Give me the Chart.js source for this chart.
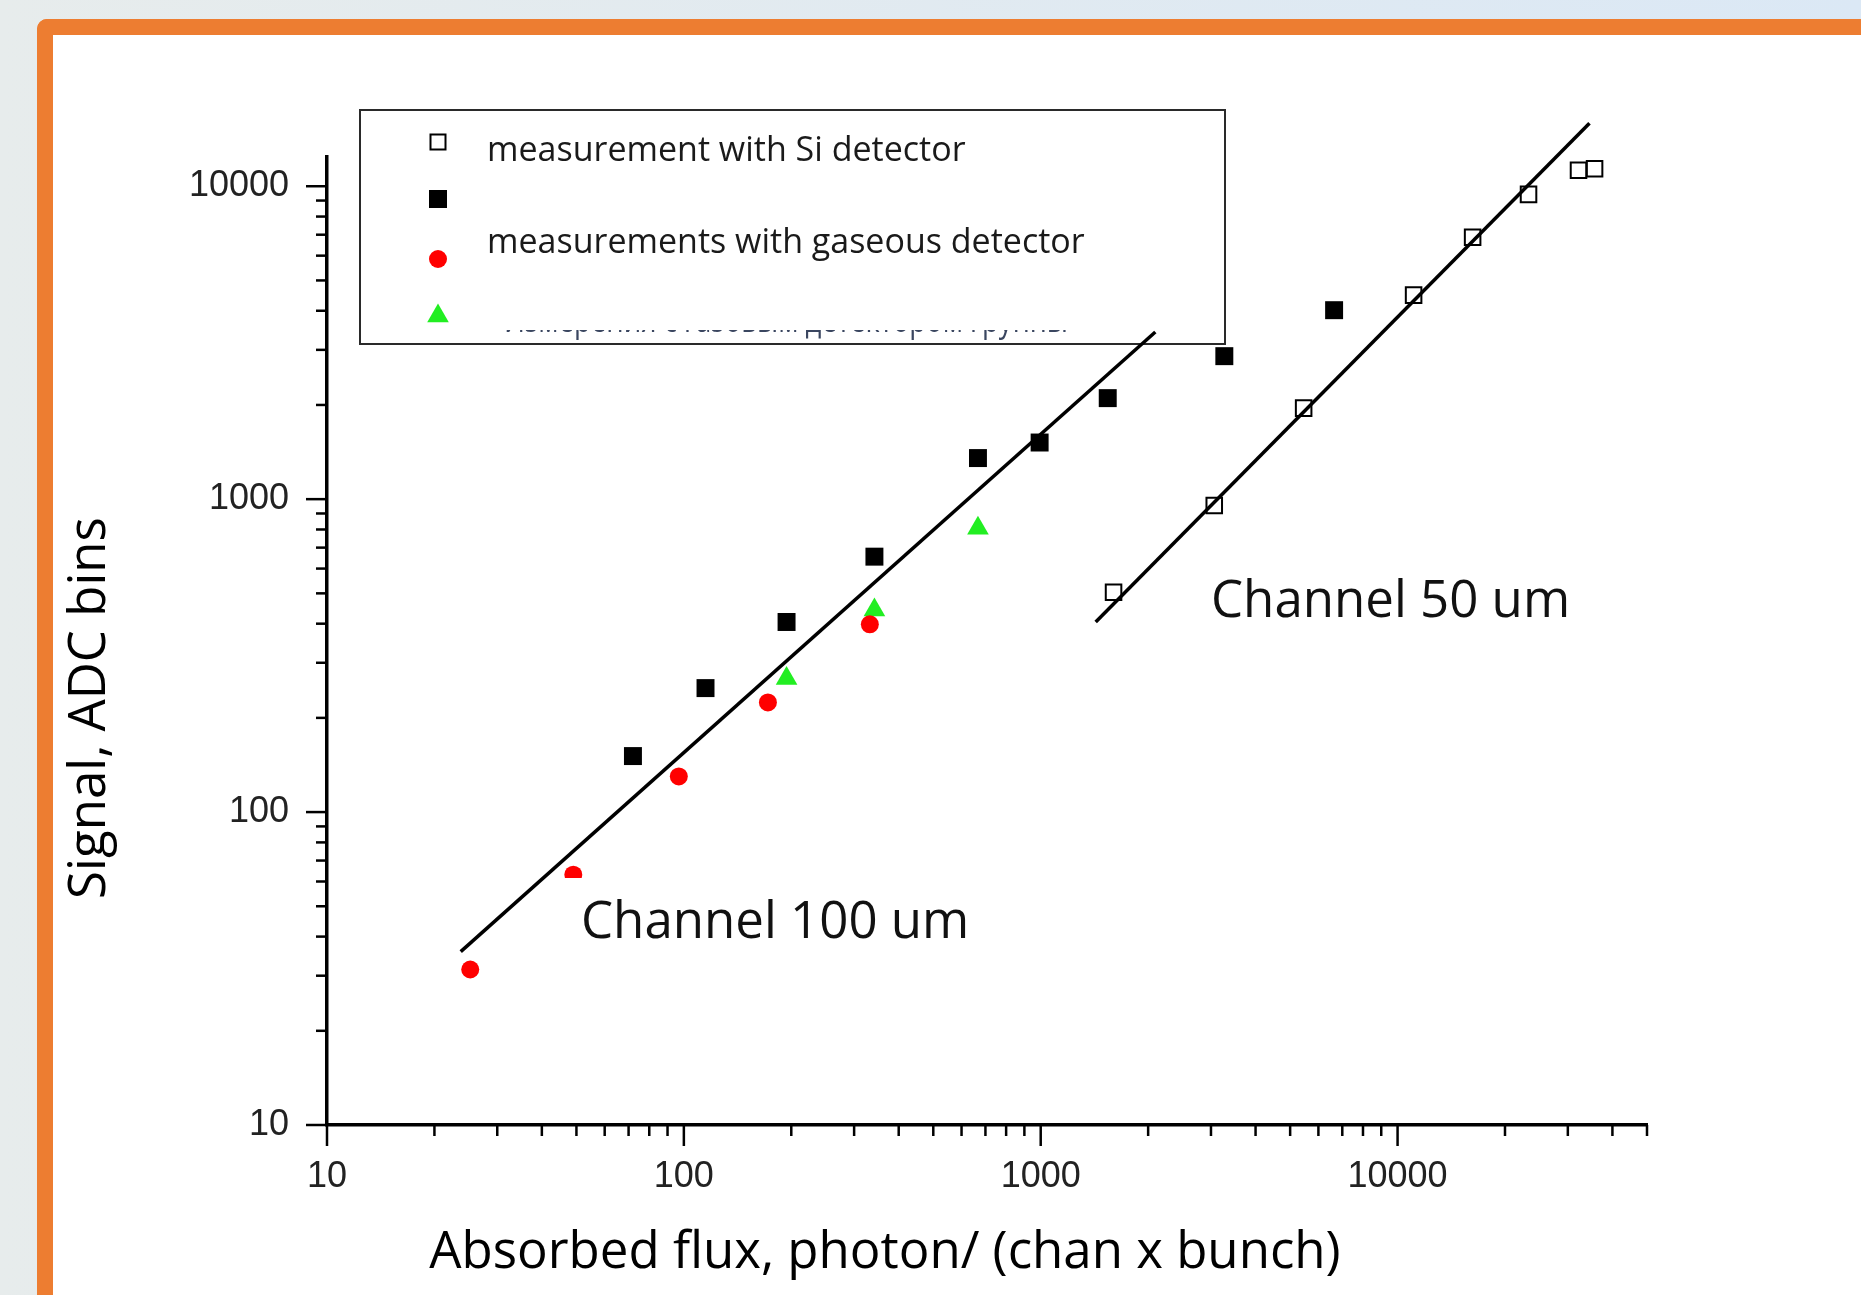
<!DOCTYPE html>
<html>
<head>
<meta charset="utf-8">
<script src="https://cdn.jsdelivr.net/npm/chart.js@4.4.1/dist/chart.umd.min.js"></script>
<style>
html, body { margin: 0; padding: 0; }
body {
	width: 1861px; height: 1295px; overflow: hidden; position: relative;
	background: linear-gradient(to right, #e7ecec, #dbe8f5);
}
#frame {
	position: absolute; left: 37px; top: 19px; width: 1900px; height: 1400px;
	background: #fff;
	border-top: 16px solid #ed7d31; border-left: 16px solid #ed7d31;
	border-top-left-radius: 10px;
}
#chart { position: absolute; left: 0; top: 0; }
</style>
</head>
<body>
<div id="frame"></div>
<canvas id="chart" width="1861" height="1295"></canvas>
<script>
// values (absorbed flux vs signal)
const siX = [1600, 3064, 5455, 11090, 16230, 23280, 32140, 35650];
const siY = [504, 955, 1954, 4487, 6873, 9420, 11250, 11370];

const blackX = [72, 115, 194, 342, 667, 993, 1541, 3270, 6640];
const blackY = [151, 249, 405, 655, 1353, 1517, 2103, 2864, 4017];

const redX = [25.2, 49, 96.8, 172, 332];
const redY = [31.4, 63.1, 130, 224, 398];

const greenX = [194, 342, 667];
const greenY = [267, 442, 808];

// fitted lines
const fit100X = [23.7, 2095];
const fit100Y = [35.8, 3420];
const fit50X = [1426, 34500];
const fit50Y = [405, 15900];

const xTickLabels = ["10", "100", "1000", "10000"];
const yTickLabels = ["10", "100", "1000", "10000"];

const legendTexts = ["measurement with Si detector", "measurements with gaseous detector"];
const cutText = "Измерения с газовым детектором группы";
const xTitle = "Absorbed flux, photon/ (chan x bunch)";
const yTitle = "Signal, ADC bins";
const note100 = "Channel 100 um";
const note50 = "Channel 50 um";

function pts(xs, ys) {
	return xs.map((x, i) => ({ x: x, y: ys[i] }));
}

function logTicks(scale) {
	const ticks = [];
	for (let d = 1; d <= 100000; d *= 10) {
		for (let m = 1; m <= 9; m++) {
			const v = m * d;
			if (v >= scale.min && v <= scale.max) ticks.push({ value: v, major: m === 1 });
		}
	}
	scale.ticks = ticks;
}

function drawMarker(ctx, kind, x, y) {
	ctx.save();
	if (kind === "open") {
		ctx.strokeStyle = "#000";
		ctx.lineWidth = 2;
		ctx.strokeRect(x - 7.5, y - 7.5, 15, 15);
	} else if (kind === "black") {
		ctx.fillStyle = "#000";
		ctx.fillRect(x - 9, y - 9, 18, 18);
	} else if (kind === "red") {
		ctx.fillStyle = "#ff0000";
		ctx.beginPath();
		ctx.arc(x, y, 9, 0, Math.PI * 2);
		ctx.fill();
	} else {
		ctx.fillStyle = "#22ee22";
		ctx.beginPath();
		ctx.moveTo(x, y - 12.5);
		ctx.lineTo(x + 10.8, y + 6.2);
		ctx.lineTo(x - 10.8, y + 6.2);
		ctx.closePath();
		ctx.fill();
	}
	ctx.restore();
}

const decor = {
	id: "decor",
	beforeDatasetsDraw(chart) {
		const ctx = chart.ctx;
		// legend box
		ctx.save();
		ctx.fillStyle = "#fff";
		ctx.fillRect(360, 110, 865, 234);
		ctx.strokeStyle = "#2a2a2a";
		ctx.lineWidth = 2;
		ctx.strokeRect(360, 110, 865, 234);
		drawMarker(ctx, "open", 438, 142);
		drawMarker(ctx, "black", 438, 199);
		drawMarker(ctx, "red", 438, 259);
		drawMarker(ctx, "green", 438, 316);
		ctx.fillStyle = "#1a1a1a";
		ctx.font = '34px "Open Sans"';
		ctx.textBaseline = "middle";
		ctx.fillText(legendTexts[0], 487, 151);
		ctx.fillText(legendTexts[1], 487, 243);
		// third line of the legend, mostly hidden
		ctx.beginPath();
		ctx.rect(480, 330, 640, 12);
		ctx.clip();
		ctx.fillStyle = "#3a4660";
		ctx.textBaseline = "alphabetic";
		ctx.fillText(cutText, 504, 331.5, 564);
		ctx.restore();
	},
	afterDatasetsDraw(chart) {
		const ctx = chart.ctx;
		const { x, y } = chart.scales;
		ctx.save();
		// tick marks, long at decades
		ctx.strokeStyle = "#000";
		ctx.lineWidth = 2.5;
		x.ticks.forEach((t) => {
			const p = x.getPixelForValue(t.value);
			ctx.beginPath();
			ctx.moveTo(p, x.top);
			ctx.lineTo(p, x.top + (t.major ? 21 : 11));
			ctx.stroke();
		});
		y.ticks.forEach((t) => {
			const p = y.getPixelForValue(t.value);
			ctx.beginPath();
			ctx.moveTo(y.right, p);
			ctx.lineTo(y.right - (t.major ? 21 : 11), p);
			ctx.stroke();
		});

		// label box of the 100 um channel
		ctx.fillStyle = "#fff";
		ctx.fillRect(563, 878, 420, 85);
		ctx.fillStyle = "#111";
		ctx.font = '51px "Open Sans"';
		ctx.textBaseline = "middle";
		ctx.textAlign = "left";
		ctx.fillText(note100, 581, 923);
		ctx.fillText(note50, 1211, 602);

		// axis titles
		ctx.font = '51px "Open Sans"';
		ctx.fillStyle = "#000";
		ctx.textAlign = "center";
		ctx.fillText(xTitle, 885, 1253);
		ctx.translate(90, 708);
		ctx.rotate(-Math.PI / 2);
		ctx.fillText(yTitle, 0, 0);
		ctx.restore();
	},
};

const tickFont = { family: "Liberation Sans", size: 36 };

new Chart(document.getElementById("chart"), {
	type: "scatter",
	data: {
		datasets: [
			{
				label: "Si",
				data: pts(siX, siY),
				pointStyle: "rect",
				pointRadius: 11,
				backgroundColor: "rgba(0,0,0,0)",
				borderColor: "#000",
				borderWidth: 2,
			},
			{
				label: "black",
				data: pts(blackX, blackY),
				pointStyle: "rect",
				pointRadius: 12.7,
				backgroundColor: "#000",
				borderWidth: 0,
			},
			{
				label: "red",
				data: pts(redX, redY),
				pointStyle: "circle",
				pointRadius: 9,
				backgroundColor: "#ff0000",
				borderWidth: 0,
			},
			{
				label: "green",
				data: pts(greenX, greenY),
				pointStyle: "triangle",
				pointRadius: 12.5,
				backgroundColor: "#22ee22",
				borderWidth: 0,
			},
			{
				label: "fit 100",
				data: pts(fit100X, fit100Y),
				showLine: true,
				pointRadius: 0,
				borderColor: "#000",
				borderWidth: 3.5,
				clip: false,
			},
			{
				label: "fit 50",
				data: pts(fit50X, fit50Y),
				showLine: true,
				pointRadius: 0,
				borderColor: "#000",
				borderWidth: 3.5,
				clip: false,
			},
		],
	},
	options: {
		responsive: false,
		animation: false,
		devicePixelRatio: 1,
		layout: { padding: { left: 177, right: 214, top: 157, bottom: 60 } },
		plugins: {
			legend: { display: false },
			tooltip: { enabled: false },
		},
		scales: {
			x: {
				type: "logarithmic",
				min: 10,
				max: 50000,
				afterBuildTicks: logTicks,
				afterFit(scale) { scale.height = 110; },
				grid: { display: false },
				border: { display: true, color: "#000", width: 3.5 },
				ticks: {
					autoSkip: false,
					maxRotation: 0,
					padding: 22,
					color: "#222",
					font: tickFont,
					callback: (v) => (xTickLabels.includes(String(v)) ? String(v) : ""),
				},
			},
			y: {
				type: "logarithmic",
				min: 10,
				max: 12400,
				afterBuildTicks: logTicks,
				afterFit(scale) { scale.width = 150; },
				grid: { display: false },
				border: { display: true, color: "#000", width: 3.5 },
				ticks: {
					autoSkip: false,
					padding: 30,
					color: "#222",
					font: tickFont,
					callback: (v) => (yTickLabels.includes(String(v)) ? String(v) : ""),
				},
			},
		},
	},
	plugins: [decor],
});
</script>
</body>
</html>
